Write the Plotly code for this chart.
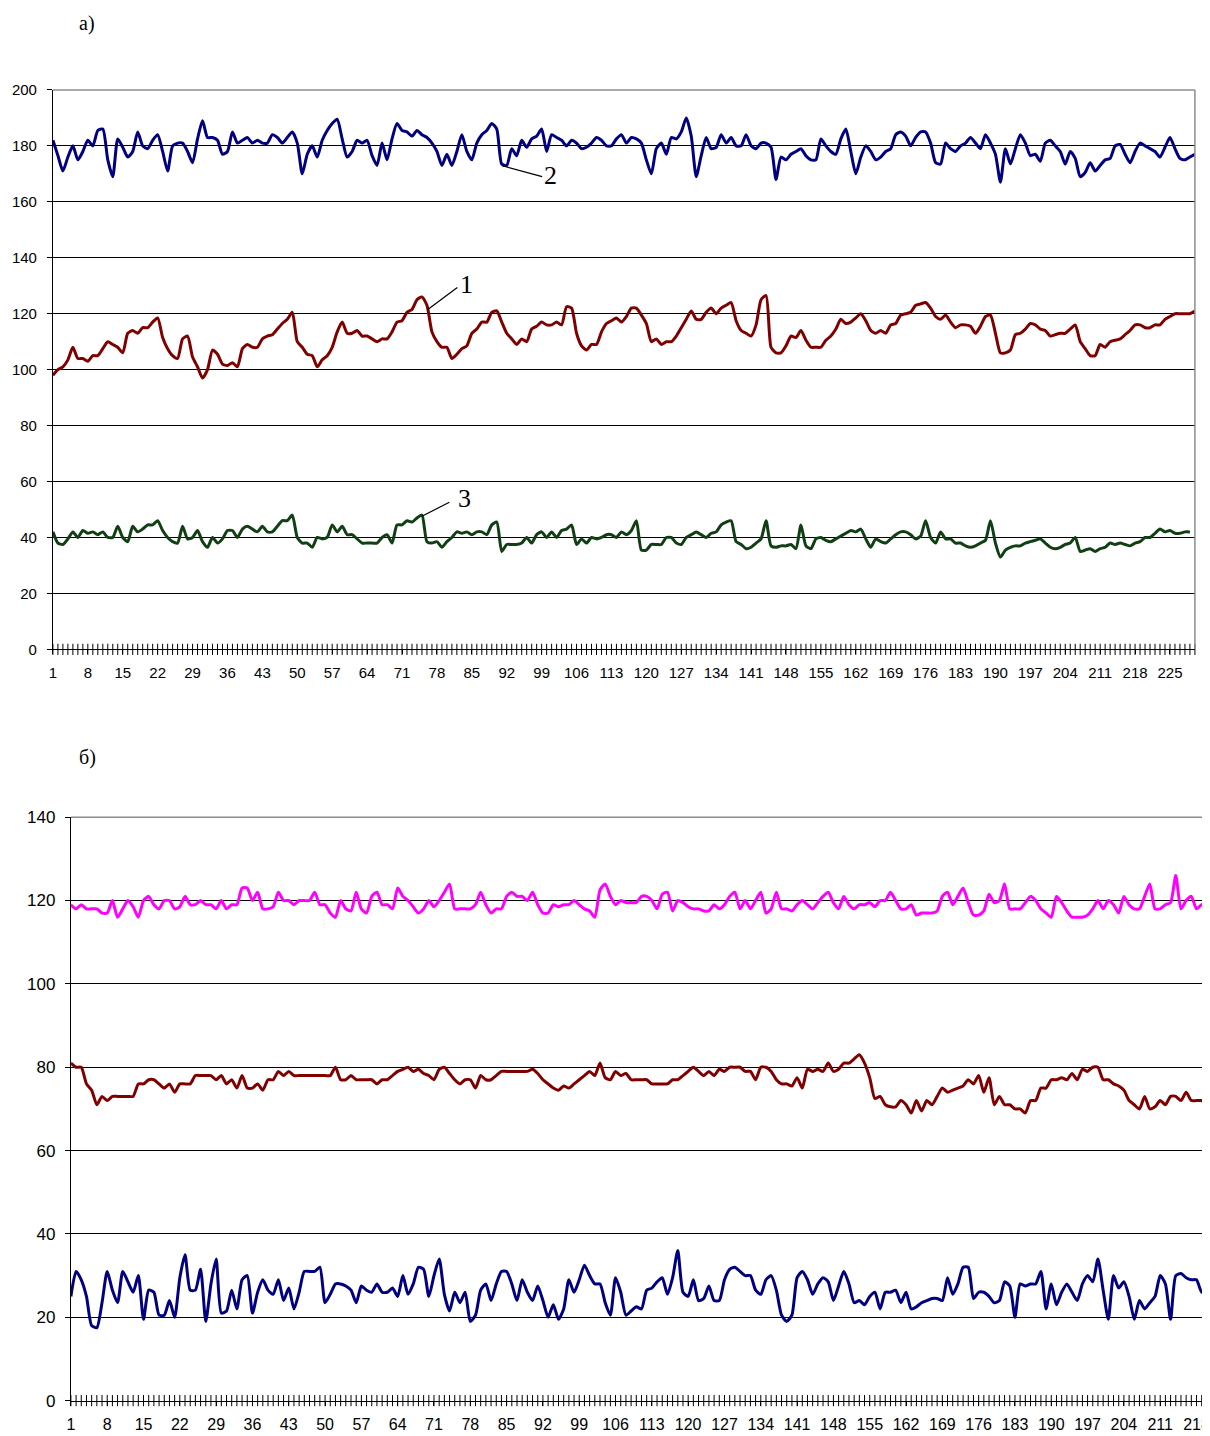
import plotly.graph_objects as go

# ---------------- data: chart a) ----------------
a_s2 = [182, 176.5, 171, 176, 180, 175, 178, 182, 180, 185.5,
        186, 175, 169, 182.5, 179.5, 176, 178, 185, 180, 179,
        182, 184, 178, 171, 180, 181, 181, 178, 174, 182.5,
        189, 183, 183, 182, 177, 178, 185, 181, 182, 183,
        181, 182, 181, 181, 184, 183, 181, 183, 185, 181,
        170, 177, 180, 176, 182, 185.5, 188, 189.5, 182.5, 176,
        178, 182, 181, 182, 176.5, 173, 181, 175, 182.5, 188,
        185.5, 185, 183.5, 185.5, 184, 183, 181, 178, 173, 177,
        173, 178, 184, 178, 175, 181, 184, 185.5, 188, 186,
        173.5, 173, 179, 176.5, 182, 179.5, 182.5, 183.5, 186, 178,
        184, 183, 182, 180, 182, 181, 179, 179.5, 181, 183,
        182, 180, 180, 182.5, 184, 181, 183, 182.5, 181, 175,
        170, 179, 181, 177, 183, 182.5, 185, 190, 183.5, 169,
        176.5, 183, 179, 179.5, 184, 181, 183, 180, 180, 184,
        180, 179, 181, 181, 179.5, 168, 176, 175, 177, 178,
        179, 176.5, 175, 175, 182.5, 180, 178, 177, 182.5, 186,
        178, 170, 176, 180, 178, 175, 176, 178, 179, 184,
        185, 183.5, 180, 183, 185, 185, 181, 174, 173.5, 181,
        179, 178, 180, 181, 183, 181, 179, 184, 181, 177,
        167, 179, 173.5, 179, 184, 181, 176.5, 177, 174.5, 181,
        182, 180, 178, 173.5, 178, 175.5, 169, 170.5, 174, 171,
        173, 175, 175.5, 180, 180.5, 177, 174, 178, 181, 180,
        179, 178, 176, 179.5, 183, 179, 175.5, 175, 176, 177]

a_s1 = [98, 100, 101, 103.5, 108, 104, 104, 103, 105, 105,
        107.5, 110, 109, 108, 106, 113, 114, 113, 115, 115,
        117, 118.5, 111.5, 107.5, 105, 104, 111, 112, 104.5, 101,
        97, 100, 107, 105.5, 102, 101.5, 102.5, 101, 107.5, 109,
        108, 108, 111, 112, 112.5, 114.5, 116.5, 118, 120.5, 110,
        108, 105.5, 105, 101, 103.5, 105, 108, 113.5, 117, 113,
        113, 114, 112, 112, 111, 110, 111, 111, 113.5, 117,
        117.5, 120.5, 121.5, 125, 126, 123, 113.5, 110, 108, 108,
        104, 105.5, 107.5, 108.5, 113, 114.5, 117, 117, 120.5, 121,
        117, 113, 111, 109, 111, 110, 114.5, 115.5, 117, 116,
        116, 117, 116, 122.5, 122, 113, 108.5, 107, 109, 109,
        113.5, 116.5, 117.5, 118.5, 117, 119, 122, 122, 119.5, 116.5,
        110, 111, 109, 110, 110, 112, 115, 118, 121, 118,
        118, 120.5, 122, 120, 122, 123, 124, 117.5, 114, 113,
        112, 116, 125, 126.5, 108, 106, 106, 108.5, 112, 111.5,
        114, 110.5, 108, 108, 108, 110.5, 112, 114.5, 118, 116.5,
        117, 118.5, 120, 117.5, 114, 113, 114, 113, 116, 116.5,
        119.5, 120, 120.5, 123, 123.5, 124, 122, 119, 118, 119.5,
        117, 115, 116, 116, 115.5, 113, 115.5, 119, 119.5, 113,
        106, 106, 107, 112.5, 113, 114.5, 116.5, 116, 114.5, 114,
        112, 112.5, 113, 113, 114.5, 116, 110, 107.5, 105, 105,
        109, 108, 110, 110.5, 111, 112.5, 114, 116, 116, 115,
        115, 116, 116, 118, 119, 120, 120, 120, 120, 121]

a_s3 = [42, 38, 37.5, 39.5, 42, 40, 42.5, 41.5, 42, 41,
        42, 40, 40, 44, 40, 38.5, 44, 42, 43, 44.5,
        44.5, 46, 42.5, 40, 38.5, 38, 44, 39.5, 40, 42.5,
        38.5, 36.5, 40, 38, 39.5, 42.5, 42.5, 40, 43, 44,
        43, 42, 44, 42, 42, 44, 46, 46, 48, 40,
        38, 38, 36.5, 40, 39.5, 40, 44.5, 42, 44, 41,
        41, 39.5, 38, 38, 38, 38, 40, 41, 38, 44.5,
        44.5, 46, 45.5, 47, 48, 38.5, 38, 38.5, 36.5, 38.5,
        40, 42, 41.5, 42, 41, 42, 42, 41, 44.5, 45.5,
        35, 37.5, 37.5, 37.5, 38, 40, 38, 41, 42, 40,
        42, 40, 42.5, 43, 44.5, 37.5, 39.5, 38, 40, 39.5,
        40, 41, 41, 40, 42, 41, 42.5, 46, 35.5, 35.5,
        37.5, 37.5, 37.5, 40, 40, 38, 37.5, 40, 41, 42,
        41, 40, 41.5, 42, 44.5, 45.5, 46, 38.5, 37.5, 36,
        36.5, 38, 39.5, 46, 37, 36.5, 37, 37, 37.5, 36,
        44.5, 37, 36, 39.5, 40, 39, 38.5, 39.5, 40.5, 41.5,
        42.5, 42, 43, 39.5, 36.5, 39.5, 38.5, 38, 39.5, 41,
        42, 42, 41, 39.5, 40.5, 46, 40, 38, 42, 39.5,
        39.5, 38, 38, 37, 36.5, 37, 38, 39, 46, 38,
        33, 35.5, 36.5, 37, 37, 38, 38.5, 39, 39.5, 38,
        36.5, 36, 36.5, 37.5, 38, 40, 35, 35.5, 36, 35,
        36, 36.5, 38, 37.5, 38, 37.5, 37, 38, 38.5, 40,
        40, 41.5, 43, 42, 42.5, 41.5, 41.5, 42, 42]

a_ticks = [1, 8, 15, 22, 29, 36, 43, 50, 57, 64, 71, 78, 85, 92, 99, 106,
           113, 120, 127, 134, 141, 148, 155, 162, 169, 176, 183, 190,
           197, 204, 211, 218, 225]
a_yticks = [0, 20, 40, 60, 80, 100, 120, 140, 160, 180, 200]

# ---------------- data: chart б) ----------------
b_top = [119, 118, 119, 118, 118, 118, 117, 117, 120, 116,
         118, 120, 118.5, 116, 120, 121, 119, 118, 120, 120,
         118, 118.5, 121, 119, 119, 120, 119, 119, 118, 120,
         118, 119, 119, 123, 123, 120, 122, 118, 118, 118.5,
         122, 120, 120, 119, 120, 120, 120, 122, 119, 119,
         117, 116, 120, 118, 117.5, 122, 118, 117, 121, 122,
         119, 119, 118, 123, 121, 120, 118.5, 117, 118, 120,
         118.5, 120, 122, 124, 118, 118, 118, 118, 119, 122,
         119, 117, 118, 118, 121, 122, 121, 121, 120, 122,
         119, 117, 117, 119, 118.5, 119, 119, 120, 119, 118,
         117.5, 116, 122.5, 124, 121, 119, 120, 119.5, 119.5, 119.5,
         121, 121, 120, 118, 121.5, 122, 117.5, 120, 119.5, 118.5,
         118, 118, 117.5, 117.5, 119, 118, 119, 121, 122, 118,
         120, 118, 120, 122, 117, 118, 122, 118, 118, 117.5,
         119, 120, 119, 118, 119.5, 121, 122, 119.5, 118, 121,
         119, 118, 119, 119, 119.5, 118.5, 120, 120, 122, 120,
         118, 118, 119, 116.5, 117, 117, 117, 117.5, 121, 122,
         119, 121, 123, 119.5, 116.5, 116.5, 117.5, 121.5, 119.5, 120,
         124, 118, 118, 118, 119.5, 121, 120, 118, 117, 116,
         121, 119.5, 117.5, 116, 116, 116, 116.5, 118, 120, 118,
         120, 119, 117, 121, 119, 118, 118, 121, 124, 118,
         118, 119, 119.5, 126, 118, 120, 121, 118, 119, 119]

b_mid = [81, 80, 80, 76, 74.5, 71, 73, 72, 73, 73,
         73, 73, 73, 76, 76, 77, 77, 76, 75, 76,
         74, 76, 76, 76, 78, 78, 78, 78, 77, 78,
         76, 77, 75, 78, 75, 75, 76, 74.5, 77, 77,
         79, 78, 79, 78, 78, 78, 78, 78, 78, 78,
         78, 80, 77, 77, 78, 77, 77, 77, 77, 76,
         77, 77, 78, 79, 79.5, 80, 79, 79.5, 78.5, 78,
         77, 79.5, 80, 78.5, 77, 76, 77, 77, 75, 78,
         77, 77, 78, 79, 79, 79, 79, 79, 79, 79.5,
         78.5, 77, 76, 75, 74.5, 75.5, 75, 76, 77, 78,
         79, 78, 81, 77.5, 77, 79, 78, 78.5, 77, 77,
         77, 77, 76, 76, 76, 76, 77, 77, 78, 79,
         80, 79, 78, 79, 78, 79.5, 79, 80, 80, 80,
         79, 79, 77, 80, 80, 79, 77, 76, 76, 75.5,
         77.5, 75, 79.5, 79, 79.5, 79, 81, 79, 79.5, 81,
         81, 82, 83, 81, 77.5, 72.5, 73, 71, 70.5, 70.5,
         72, 71, 69, 72, 69.5, 72, 71, 73, 75, 74,
         74.5, 75, 75.5, 77, 76, 78, 74, 77.5, 71, 73,
         71, 71, 70, 70, 69, 72, 72, 75, 75, 77,
         77, 77.5, 77, 78.5, 77, 79.5, 79, 80, 80, 77,
         77, 76, 75.5, 74.5, 72, 71, 70, 73, 70, 70.5,
         72, 71, 73, 73, 72, 74, 72, 72, 72, 71]

b_low = [25, 31, 29, 25, 18, 17.5, 23.5, 31, 26.5, 23.5,
         31, 28.5, 26, 30, 19.5, 26.5, 26, 20.5, 20.5, 24,
         20, 29.5, 35, 26.5, 26.5, 31.5, 19, 28, 34, 21,
         21.5, 26.5, 22, 29, 30, 21, 26, 29, 26.5, 25.5,
         29, 24, 27, 22, 26, 31, 31, 31, 32, 23.5,
         25.5, 28, 28, 27.5, 26.5, 23.5, 27.5, 26.5, 26, 28,
         26, 26, 27, 25, 30, 25.5, 28, 32, 31.5, 25,
         30, 34, 25.5, 21.5, 26, 23.5, 26, 19, 20.5, 26.5,
         28, 24, 28, 31, 31, 28, 24, 29, 26, 24,
         27.5, 24, 20, 23, 19.5, 22, 29, 26, 29, 32.5,
         30, 28, 28, 23.5, 20.5, 29.5, 26, 20.5, 21.5, 22.5,
         22, 26.5, 27, 28.5, 29.5, 25.5, 29.5, 36, 26, 25,
         29, 24, 24.5, 27.5, 24, 24, 29, 31.5, 32, 31,
         30, 30, 26.5, 25.5, 29, 30, 26.5, 20.5, 19, 20.5,
         29.5, 31, 29, 25.5, 28, 29.5, 28.5, 24, 27.5, 31,
         28, 23.5, 24, 23, 25, 26, 22, 26, 26, 26.5,
         23.5, 26, 22, 22.5, 23.5, 24, 24.5, 24.5, 24, 29.5,
         25.5, 28, 32, 32, 24.5, 26, 26, 25, 23.5, 24,
         28.5, 27.5, 20, 28, 27.5, 28, 28, 31, 22, 28,
         23, 26, 28, 26, 24, 28, 30, 28.5, 34, 26.5,
         19.5, 30, 27, 28.5, 25, 19.5, 24, 22, 23.5, 25,
         30, 28, 19.5, 30, 30.5, 29.5, 29, 29, 26, 27]

b_ticks = [1, 8, 15, 22, 29, 36, 43, 50, 57, 64, 71, 78, 85, 92, 99, 106,
           113, 120, 127, 134, 141, 148, 155, 162, 169, 176, 183, 190,
           197, 204, 211, 218]
b_yticks = [0, 20, 40, 60, 80, 100, 120, 140]

# ---------------- figure ----------------
# measured mapping from figure pixels to the photographed page
SX, BX = 0.996, 12.0
SY, BY = 0.9878, 16.0
W, H = 1216, 1440
NAVY, MAROON, DGREEN, MAGENTA = "#000080", "#800000", "#0f3f12", "#ff00ff"
SANS = "Liberation Sans, Arial, sans-serif"
SERIF = "Liberation Serif, Times New Roman, serif"


def cats(vals):
    return list(range(1, len(vals) + 1))


def px_x(p):
    return min(1.0, max(0.0, ((p - BX) / SX) / W))


def px_y(p):
    return min(1.0, max(0.0, 1 - ((p - BY) / SY) / H))


n_a = len(a_s2)
n_b = len(b_low)

fig = go.Figure()


def add_line(vals, color, xa, ya):
    fig.add_trace(go.Scatter(
        x=cats(vals), y=vals, mode="lines", xaxis=xa, yaxis=ya,
        line=dict(color=color, width=3, shape="spline", smoothing=0.6),
        showlegend=False, hoverinfo="skip"))


def add_cat_ticks(n, xa, ya):
    fig.add_trace(go.Scatter(
        x=list(range(1, n + 1)), y=[0] * n, mode="markers", xaxis=xa, yaxis=ya,
        marker=dict(symbol="line-ns", size=8, line=dict(color="black", width=1)),
        cliponaxis=False, showlegend=False, hoverinfo="skip"))


add_line(a_s2, NAVY, "x", "y")
add_line(a_s1, MAROON, "x", "y")
add_line(a_s3, DGREEN, "x", "y")
add_cat_ticks(n_a, "x", "y")

add_line(b_top, MAGENTA, "x2", "y2")
add_line(b_mid, MAROON, "x2", "y2")
add_line(b_low, NAVY, "x2", "y2")
add_cat_ticks(n_b, "x2", "y2")

axis_common = dict(showline=True, linecolor="black", linewidth=1, zeroline=False,
                   ticks="outside", tickcolor="black", tickwidth=1,
                   ticklabeloverflow="allow")

fig.update_layout(
    width=W, height=H, margin=dict(l=0, r=0, t=0, b=0),
    paper_bgcolor="white", plot_bgcolor="white",
    font=dict(family=SANS, color="black"),
    xaxis=dict(domain=[px_x(53), px_x(1197)], range=[1, n_a], anchor="y",
               tickmode="array", tickvals=a_ticks, ticktext=[str(t) for t in a_ticks],
               showgrid=False, tickfont=dict(size=15), ticklen=4, ticklabelstandoff=6,
               **axis_common),
    yaxis=dict(domain=[px_y(649), px_y(89)], range=[0, 200], anchor="x",
               tickmode="array", tickvals=a_yticks,
               showgrid=True, gridcolor="black", gridwidth=1,
               tickfont=dict(size=15), ticklen=5, ticklabelstandoff=7, **axis_common),
    xaxis2=dict(domain=[px_x(71), px_x(1209)], range=[1, n_b], anchor="y2",
                tickmode="array", tickvals=b_ticks, ticktext=[str(t) for t in b_ticks],
                showgrid=False, tickfont=dict(size=16), ticklen=4, ticklabelstandoff=5,
                **axis_common),
    yaxis2=dict(domain=[px_y(1401), px_y(817)], range=[0, 140], anchor="x2",
                tickmode="array", tickvals=b_yticks,
                showgrid=True, gridcolor="black", gridwidth=1,
                tickfont=dict(size=17), ticklen=5, ticklabelstandoff=6, **axis_common),
)

# gray plot-area frame (top and right)
for xr, yr in (("x domain", "y domain"), ("x2 domain", "y2 domain")):
    fig.add_shape(type="line", xref=xr, yref=yr, x0=0, x1=1, y0=1, y1=1,
                  line=dict(color="#8c8c8c", width=1.5), layer="above")
    fig.add_shape(type="line", xref=xr, yref=yr, x0=1, x1=1, y0=0, y1=1,
                  line=dict(color="#8c8c8c", width=1.5), layer="above")

# panel letters
fig.add_annotation(text="а)", xref="paper", yref="paper", x=px_x(77), y=px_y(23),
                   xanchor="left", yanchor="middle", showarrow=False,
                   font=dict(family=SERIF, size=20, color="black"))
fig.add_annotation(text="б)", xref="paper", yref="paper", x=px_x(77), y=px_y(757),
                   xanchor="left", yanchor="middle", showarrow=False,
                   font=dict(family=SERIF, size=20, color="black"))

# curve numbers with leader lines (chart a)
labels = [("1", (76.1, 121.4), (82.1, 129.4), (83.9, 130.6)),
          ("2", (91.1, 172.9), (99.1, 169.0), (100.8, 169.5)),
          ("3", (75.0, 47.6), (80.5, 52.6), (83.5, 53.8))]
for txt, p0, p1, pt in labels:
    fig.add_shape(type="line", xref="x", yref="y", x0=p0[0], y0=p0[1], x1=p1[0], y1=p1[1],
                  line=dict(color="black", width=1.2))
    fig.add_annotation(text=txt, xref="x", yref="y", x=pt[0], y=pt[1],
                       xanchor="center", yanchor="middle", showarrow=False,
                       font=dict(family=SERIF, size=26, color="black"))

fig.write_html("out.html")
